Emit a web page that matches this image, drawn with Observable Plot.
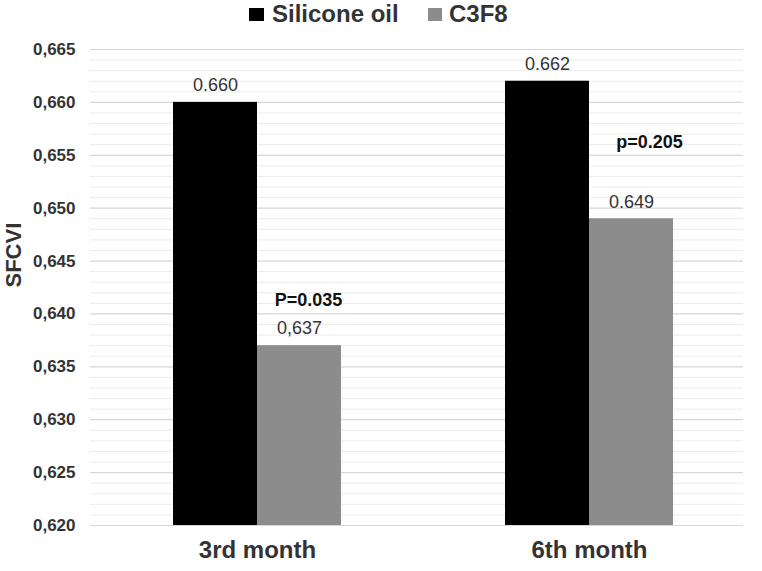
<!DOCTYPE html>
<html>
<head>
<meta charset="utf-8">
<script src="https://cdn.jsdelivr.net/npm/d3@7"></script>
<script src="https://cdn.jsdelivr.net/npm/@observablehq/plot@0.6"></script>
<style>
  html, body { margin: 0; padding: 0; background: #fff; }
  body { width: 762px; height: 571px; overflow: hidden; font-family: "Liberation Sans", Arial, sans-serif; }
  #legend { position: relative; height: 30px; width: 762px; }
  #legend .sw { position: absolute; top: 8px; width: 15px; height: 13px; }
  #legend .lb { position: absolute; top: 0px; font-size: 24px; font-weight: bold; color: #333; line-height: 28px; }
</style>
</head>
<body>
<div id="legend"></div>
<div id="chart"></div>
<script>
// Data
const months = ["3rd month", "6th month"];
const series = ["Silicone oil", "C3F8"];
const siliconeValues = [0.660, 0.662];
const c3f8Values = [0.637, 0.649];
const siliconeLabels = ["0.660", "0.662"];
const c3f8Labels = ["0,637", "0.649"];
const pValues = ["P=0.035", "p=0.205"];
const yTicks = [0.620, 0.625, 0.630, 0.635, 0.640, 0.645, 0.650, 0.655, 0.660, 0.665];
const seriesColors = ["#000000", "#8c8c8c"];

// Legend
const legend = document.getElementById("legend");
const legendLayout = [
  {sw: 249, lb: 272},
  {sw: 428, lb: 449}
];
series.forEach((s, i) => {
  const sw = document.createElement("div");
  sw.className = "sw";
  sw.style.left = legendLayout[i].sw + "px";
  sw.style.background = seriesColors[i];
  if (i === 1) sw.style.width = "14px";
  legend.appendChild(sw);
  const lb = document.createElement("div");
  lb.className = "lb";
  lb.style.left = legendLayout[i].lb + "px";
  lb.textContent = s;
  legend.appendChild(lb);
});

const sil = months.map((m, i) => ({month: m, value: siliconeValues[i], label: siliconeLabels[i]}));
const c3 = months.map((m, i) => ({month: m, value: c3f8Values[i], label: c3f8Labels[i], p: pValues[i]}));

const base = yTicks[0];
const minor = d3.range(1, 45).map(i => +(0.620 + i * 0.001).toFixed(3)).filter(v => !yTicks.some(t => Math.abs(t - v) < 1e-9));

const chart = Plot.plot({
  width: 762,
  height: 541,
  marginTop: 19,
  marginBottom: 46,
  marginLeft: 90,
  marginRight: 19,
  style: {fontFamily: '"Liberation Sans", Arial, sans-serif', color: "#333", background: "#fff"},
  x: {domain: months, range: [91, 755], paddingInner: 0.747, paddingOuter: 0.3735, axis: null},
  y: {domain: [0.620, 0.665], axis: null},
  marks: [
    Plot.ruleY(minor, {stroke: "#ebebeb", strokeWidth: 1}),
    Plot.ruleY(yTicks, {stroke: "#d6d6d6", strokeWidth: 1.2}),
    Plot.barY(sil, {x: "month", y1: base, y2: "value", fill: seriesColors[0], dx: -42}),
    Plot.barY(c3, {x: "month", y1: base, y2: "value", fill: seriesColors[1], dx: 42}),
    Plot.text(sil, {x: "month", y: "value", text: "label", dx: -42, dy: -17, fontSize: 18, fill: "#333"}),
    Plot.text(c3, {x: "month", y: "value", text: "label", dx: 42, dy: -17, fontSize: 18, fill: "#333"}),
    Plot.text(c3.slice(0, 1), {x: "month", y: "value", text: "p", dx: 51, dy: -45, fontSize: 18, fontWeight: "bold", fill: "#111"}),
    Plot.text(c3.slice(1, 2), {x: "month", y: "value", text: "p", dx: 60, dy: -77, fontSize: 18, fontWeight: "bold", fill: "#111"}),
    Plot.axisY({ticks: yTicks, tickSize: 0, tickPadding: 15, fontSize: 17, fontWeight: "bold", tickFormat: d => d3.format(".3f")(d).replace(".", ","), label: null}),
    Plot.text(months, {x: d => d, frameAnchor: "bottom", dy: 32, fontSize: 24, fontWeight: "bold", fill: "#333"}),
    Plot.text(["SFCVI"], {frameAnchor: "left", dx: -77, rotate: -90, fontSize: 22, fontWeight: "bold", fill: "#333"})
  ]
});
document.getElementById("chart").appendChild(chart);
</script>
</body>
</html>
